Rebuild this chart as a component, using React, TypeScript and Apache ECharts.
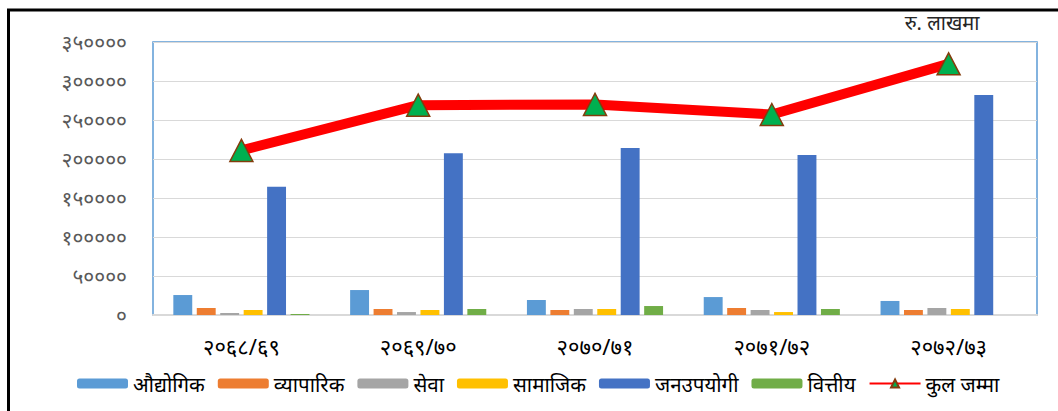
import React, { useEffect, useRef } from "react";
import * as echarts from "echarts";

const categories = ["२०६८/६९", "२०६९/७०", "२०७०/७१", "२०७१/७२", "२०७२/७३"];
const seriesNames = ["औद्योगिक", "व्यापारिक", "सेवा", "सामाजिक", "जनउपयोगी", "वित्तीय", "कुल जम्मा"];
const audyogik = [25600, 32000, 19200, 23000, 18000];
const byaparik = [9000, 7700, 6400, 9000, 6400];
const sewa = [2600, 3800, 7700, 6400, 9000];
const samajik = [6400, 6400, 7700, 3800, 7700];
const janupayogi = [164500, 207500, 214000, 205000, 282000];
const bittiya = [1300, 7700, 11500, 7700, 0];
const kulJamma = [211000, 269000, 270000, 257000, 322000];
const yTickLabels = ["०", "५००००", "१०००००", "१५००००", "२०००००", "२५००००", "३०००००", "३५००००"];
const unitLabel = "रु. लाखमा";

const barColors = ["#5B9BD5", "#ED7D31", "#A5A5A5", "#FFC000", "#4472C4", "#70AD47"];
const FONT = "'Noto Sans', 'Noto Sans Devanagari', sans-serif";

export default function App() {
  const ref = useRef<HTMLDivElement>(null);
  useEffect(() => {
    if (!ref.current) return;
    const chart = echarts.init(ref.current, undefined, { renderer: "svg" });
    const barData = [audyogik, byaparik, sewa, samajik, janupayogi, bittiya];
    const barSeries = barData.map((d, i) => ({
      name: seriesNames[i],
      type: "bar",
      data: d,
      itemStyle: { color: barColors[i] },
      barCategoryGap: "23%",
      barGap: "24%",
    }));
    chart.setOption({
      animation: false,
      textStyle: { fontFamily: FONT },
      grid: {
        left: 153,
        right: 21,
        top: 42,
        bottom: 96,
        show: true,
        borderColor: "#5B9BD5",
        borderWidth: 1.5,
      },
      graphic: [
        { type: "line", shape: { x1: 7, y1: 10, x2: 1058, y2: 10 }, style: { stroke: "#000", lineWidth: 3 } },
        { type: "line", shape: { x1: 8.5, y1: 10, x2: 8.5, y2: 411 }, style: { stroke: "#000", lineWidth: 3 } },
        {
          type: "text",
          x: 942,
          y: 22,
          style: {
            text: unitLabel,
            fontSize: 20,
            fill: "#262626",
            fontFamily: FONT,
            align: "center",
            verticalAlign: "middle",
          },
        },
      ],
      legend: {
        left: 77,
        top: 373,
        padding: 0,
        itemWidth: 51,
        itemHeight: 10,
        itemGap: 13,
        textStyle: { fontSize: 20.5, color: "#000", fontFamily: FONT },
        data: seriesNames,
      },
      xAxis: {
        type: "category",
        data: categories,
        axisLine: { lineStyle: { color: "#D9D9D9", width: 2 } },
        axisTick: { show: false },
        axisLabel: { fontSize: 22, color: "#000", margin: 20, fontFamily: FONT },
      },
      yAxis: {
        type: "value",
        min: 0,
        max: 350000,
        interval: 50000,
        axisLine: { show: false },
        axisTick: { show: false },
        splitLine: { lineStyle: { color: "#D9D9D9", width: 1 } },
        axisLabel: {
          fontSize: 21,
          color: "#595959",
          margin: 26,
          fontFamily: FONT,
          formatter: (v: number) => yTickLabels[Math.round(v / 50000)] ?? "",
        },
      },
      series: [
        ...barSeries,
        {
          name: seriesNames[6],
          type: "line",
          data: kulJamma,
          lineStyle: { color: "#FF0000", width: 10 },
          itemStyle: { color: "#00B050", borderColor: "#843C0C", borderWidth: 1.5 },
          symbol: "triangle",
          symbolSize: [23, 22],
          z: 5,
        },
      ],
    });
    return () => chart.dispose();
  }, []);
  return (
    <div
      ref={ref}
      style={{ position: "fixed", left: 0, top: 0, width: 1058, height: 411, background: "#fff" }}
    />
  );
}
